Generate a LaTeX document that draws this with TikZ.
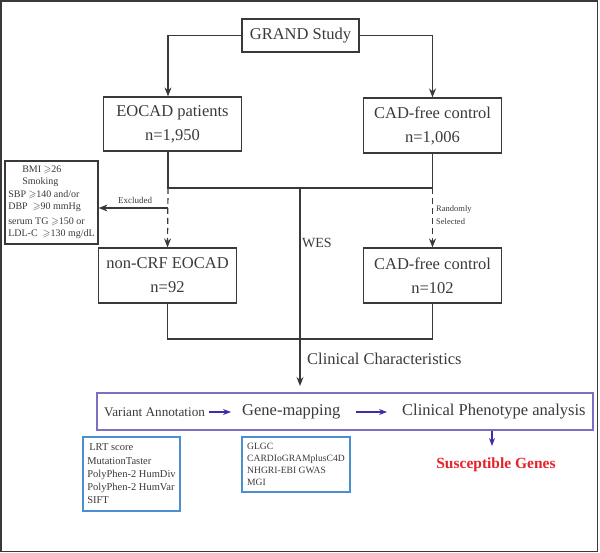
\documentclass[tikz,border=0pt]{standalone}
\usepackage{amssymb}
\usepackage{fontspec}
\setmainfont{Liberation Serif}
\usetikzlibrary{arrows.meta,calc}
\definecolor{txt}{HTML}{3A3A3A}
\definecolor{ln}{HTML}{3D3838}
\definecolor{purp}{HTML}{7C70C2}
\definecolor{parr}{HTML}{3B2FA3}
\definecolor{bbox}{HTML}{4A8FD0}
\definecolor{sred}{HTML}{E62228}
\begin{document}
\begin{tikzpicture}[x=1pt,y=-1pt,
  box/.style={draw=ln,line width=1.2pt,text=txt,inner sep=0pt,align=center,
    font=\fontsize{16.5}{24}\selectfont},
  conn/.style={draw=ln,line width=1.2pt},
  arr/.style={conn,-{Stealth[length=9pt,width=7pt]}},
  dasharr/.style={arr,dash pattern=on 6pt off 4pt},
  lbl/.style={text=txt,inner sep=0pt},
  bluebox/.style={draw=bbox,line width=1.2pt,text=txt,inner sep=0pt,align=left},
  parrow/.style={draw=parr,line width=1.2pt,-{Stealth[length=8pt,width=6pt]}},
  ptext/.style={text=txt,inner sep=0pt,anchor=west,font=\fontsize{16.5}{20}\selectfont}]
\useasboundingbox (0,0) rectangle (600,553);
\draw[ln,line width=1.5pt] (1,1) rectangle (597.5,551.5);

% boxes
\node[box,minimum width=117pt,minimum height=33pt] (grand) at (300.5,35.5) {GRAND Study};
\node[box,minimum width=138.5pt,minimum height=54pt] (eocad) at (172.5,124) {EOCAD patients\\n=1,950};
\node[box,minimum width=138.5pt,minimum height=55pt] (cad1) at (432.5,125.5) {CAD-free control\\n=1,006};
\node[box,minimum width=138.5pt,minimum height=55pt] (noncrf) at (167.5,275.5) {non-CRF EOCAD\\n=92};
\node[box,minimum width=138.5pt,minimum height=55pt] (cad2) at (432.5,275.5) {CAD-free control\\n=102};
\node[box,align=left,minimum width=93pt,minimum height=83pt,
  font=\fontsize{10}{12.3}\selectfont] (excl) at (51.5,202.5)
  {\hspace*{14pt}BMI $\geqslant$26\\ \hspace*{14pt}Smoking\\ SBP $\geqslant$140 and/or\\
   DBP \ $\geqslant$90 mmHg\\[3pt] serum TG $\geqslant$150 or\\ LDL-C \ $\geqslant$130 mg/dL};

% top connectors
\draw[arr] (grand.west) -| ([xshift=-4.5pt]eocad.north);
\draw[arr] (grand.east) -| (cad1.north);
\coordinate (j1R) at (432.5,188);
\coordinate (j1L) at (168,188);
\coordinate (j1M) at (300,188);
\draw[conn] ([xshift=-4.5pt]eocad.south) |- (j1R) -- (cad1.south);
\draw[dasharr] (j1L) -- (noncrf.north);
\draw[dasharr] (j1R) -- (cad2.north);
\coordinate (ex) at (168,208);
\draw[arr] (ex) -- (ex -| excl.east);
\node[lbl,font=\fontsize{9}{10}\selectfont] (exlbl) at (135,200) {Excluded};
\node[lbl,anchor=west,align=left,font=\fontsize{8.5}{13.5}\selectfont] (rnd) at (436,215) {Randomly\\Selected};
\node[lbl,font=\fontsize{14}{16}\selectfont] (wes) at (317,243) {WES};

% lower connectors
\coordinate (j2R) at (432.5,339);
\draw[conn] (noncrf.south) |- (j2R) -- (cad2.south);
\coordinate (cc) at (300,386);
\draw[arr] (j1M) -- (cc);
\node[lbl,anchor=west,font=\fontsize{16.5}{20}\selectfont] (clin) at (307,359) {Clinical Characteristics};

% purple pipeline
\node[draw=purp,line width=1.2pt,minimum width=496pt,minimum height=37pt,inner sep=0pt] (pipe) at (345,411.5) {};
\node[ptext,font=\fontsize{13.2}{16}\selectfont] (va) at (104,412) {Variant Annotation};
\node[ptext] (gm) at (242,412) {Gene-mapping};
\node[ptext] (cp) at (402,412) {Clinical Phenotype analysis};
\draw[parrow] ([xshift=4pt]va.east) -- ([xshift=-11pt]gm.west);
\draw[parrow] ([xshift=16pt]gm.east) -- ([xshift=-15pt]cp.west);

\coordinate (sgtop) at (492,446);
\node[text=sred,inner sep=0pt,font=\fontsize{15.5}{18}\selectfont\bfseries] (sg) at (496,465) {Susceptible Genes};
\draw[parrow] (pipe.south -| sgtop) -- (sgtop);

% blue boxes
\node[bluebox,minimum width=97pt,minimum height=74pt,font=\fontsize{10.5}{13.3}\selectfont] (b1) at (131.5,474)
  {\hspace*{2pt}LRT score\\MutationTaster\\PolyPhen-2 HumDiv\\PolyPhen-2 HumVar\\SIFT};
\node[bluebox,minimum width=108pt,minimum height=55pt,font=\fontsize{9.6}{12}\selectfont] (b2) at (296,464.5)
  {GLGC\\CARDIoGRAMplusC4D\\NHGRI-EBI GWAS\\MGI};
\end{tikzpicture}
\end{document}
